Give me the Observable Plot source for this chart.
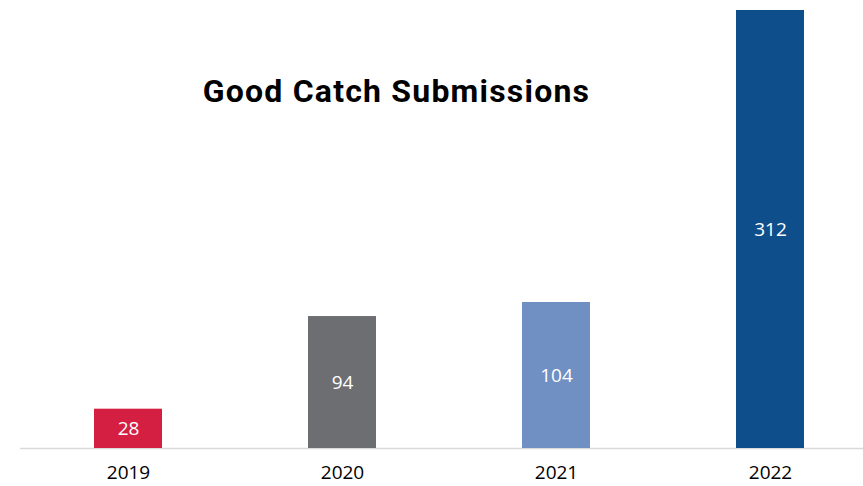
<!DOCTYPE html>
<html>
<head>
<meta charset="utf-8">
<script src="https://cdn.jsdelivr.net/npm/d3@7"></script>
<script src="https://cdn.jsdelivr.net/npm/@observablehq/plot@0.6"></script>
<style>
  html, body { margin: 0; padding: 0; background: #fff; }
  #wrap { position: relative; width: 863px; height: 486px; }
  #title {
    position: absolute; top: 75px; left: 0; width: 793px; text-align: center;
    font-family: Roboto, "DejaVu Sans", sans-serif; font-weight: 700; font-size: 32px;
    letter-spacing: 1.2px; line-height: 1; color: #000; z-index: 2;
  }
  #chart { position: absolute; top: 0; left: 0; }
</style>
</head>
<body>
<div id="wrap">
  <div id="title">Good Catch Submissions</div>
  <div id="chart"></div>
</div>
<script>
const years = ["2019", "2020", "2021", "2022"];
const submissions = [28, 94, 104, 312];
const palette = ["#D41F42", "#6D6E71", "#7090C3", "#0E4E8B"];

const data = years.map((y, i) => ({year: y, value: submissions[i]}));

const chart = Plot.plot({
  width: 863,
  height: 486,
  marginLeft: 20,
  marginRight: 0,
  marginTop: 10,
  marginBottom: 38,
  style: {fontFamily: "'Open Sans', sans-serif", background: "#fff"},
  x: {domain: years, paddingInner: 0.6832, paddingOuter: 0.305, align: 0.557, label: null},
  y: {domain: [0, 312], axis: null},
  color: {domain: years, range: palette},
  marks: [
    Plot.ruleY([0], {stroke: "#d9d9d9", strokeWidth: 1.5}),
    Plot.barY(data, {x: "year", y: "value", fill: "year"}),
    Plot.text(data, {x: "year", y: d => d.value / 2, text: d => String(d.value), fill: "#fff", fontSize: 19}),
    Plot.axisX({tickSize: 0, tickPadding: 17, fontSize: 19, color: "#000", label: null})
  ]
});
document.getElementById("chart").appendChild(chart);
</script>
</body>
</html>
